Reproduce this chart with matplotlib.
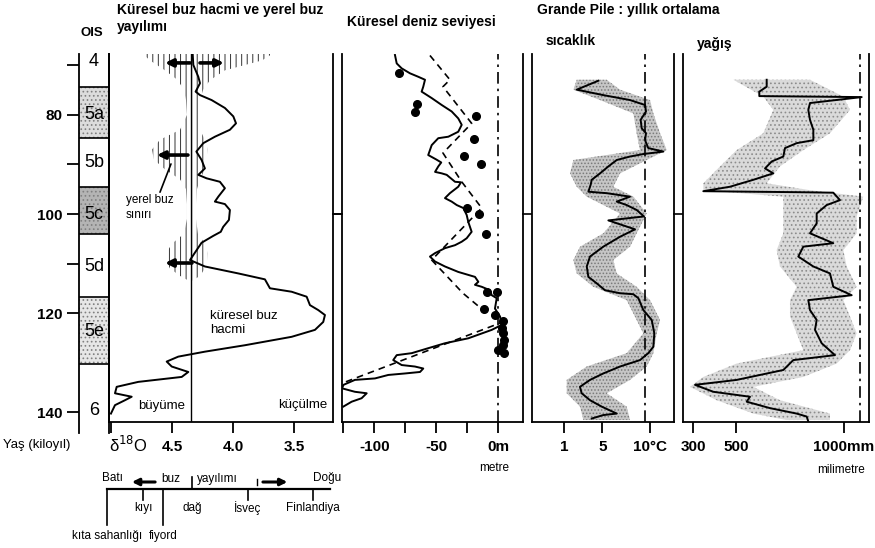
import matplotlib
matplotlib.use("Agg")
import matplotlib.pyplot as plt

plt.rcParams['font.family'] = ['Liberation Sans', 'DejaVu Sans']
plt.rcParams['hatch.linewidth'] = 0.7

W, H = 875, 548
AGE_TOP, AGE_BOT = 67.7, 142.0

# ---------------- OIS column ----------------
ois_labels = ['4', '5a', '5b', '5c', '5d', '5e', '6']
ois_label_age = [69.3, 80.0, 89.7, 100.0, 110.5, 123.8, 139.6]
ois_bounds = [74.3, 84.6, 94.5, 104.0, 116.8, 130.3]
ois_shade_top = [74.3, 94.5, 116.8]
ois_shade_bot = [84.6, 104.0, 130.3]
ois_shade_col = ['#dcdcdc', '#b4b4b4', '#e6e6e6']
age_ticks = [70, 80, 90, 100, 110, 120, 140]
age_ticklabels = ['', '80', '', '100', '', '120', '140']

# ---------------- Panel 1: global ice volume (d18O) ----------------
ice_age = [67.7, 69.9, 72.3, 73.6, 75.3, 76.0, 77.0, 78.6, 80.3, 81.7, 83.0, 84.4, 85.7,
           87.4, 89.1, 90.8, 92.1, 92.8, 93.5, 94.8, 96.5, 97.5, 98.0, 99.2, 101.2,
           102.6, 103.6, 104.4, 105.8, 108.3, 109.3, 110.6, 112.0, 113.2, 115.0, 115.7,
           116.7, 118.4, 119.4, 120.4, 121.8, 123.4, 124.8, 126.5, 127.8, 128.8, 129.8,
           130.8, 131.9, 132.9, 133.9, 134.9, 136.2, 136.9, 137.6, 138.6, 140.3]
ice_d18o = [4.33, 4.325, 4.284, 4.27, 4.306, 4.27, 4.175, 4.066, 3.997, 3.975, 4.025, 4.148,
            4.243, 4.30, 4.257, 4.23, 4.284, 4.216, 4.107, 4.066, 4.12, 4.148, 4.066, 4.025,
            4.033, 4.08, 4.10, 4.16, 4.257, 4.325, 4.352, 4.23, 3.957, 3.738, 3.697, 3.519,
            3.396, 3.369, 3.301, 3.246, 3.26, 3.328, 3.519, 3.902, 4.23, 4.448, 4.543,
            4.502, 4.366, 4.42, 4.776, 4.953, 4.967, 4.83, 4.885, 4.967, 5.0]
ice_ref_d18o = 4.34

# local ice extent (stippled zone)
loc_age = [67.7, 69, 71, 73, 75, 77, 80, 83, 85, 87, 89, 91, 93, 95, 98, 101, 104, 106,
           108, 109.5, 111, 112.5, 113.5]
loc_left = [4.738, 4.680, 4.557, 4.451, 4.402, 4.385, 4.377, 4.434, 4.598, 4.664, 4.648,
            4.557, 4.434, 4.385, 4.377, 4.377, 4.402, 4.5, 4.549, 4.549, 4.516, 4.434, 4.361]
loc_right = [3.680, 3.762, 4.066, 4.189, 4.246, 4.270, 4.287, 4.270, 4.230, 4.205, 4.221,
             4.230, 4.270, 4.295, 4.303, 4.303, 4.287, 4.230, 4.205, 4.213, 4.230, 4.270, 4.336]
# local ice-limit arrows: (age, from d18O, to d18O)
arrow_age = [69.5, 69.5, 88.1, 109.9]
arrow_from = [4.352, 4.270, 4.369, 4.336]
arrow_to = [4.557, 4.074, 4.623, 4.557]

# ---------------- Panel 2: global sea level ----------------
sl_age = [67.9, 69.6, 70.6, 71.6, 72.3, 72.9, 74.3, 75.3, 76.6, 78.0, 79.3, 80.7, 82.0,
          83.4, 84.4, 84.7, 86.1, 88.1, 89.0, 89.6, 90.4, 91.5, 91.8, 92.1, 93.5, 93.6,
          94.5, 95.8, 96.8, 97.5, 98.2, 98.8, 100.2, 101.6, 103.6, 104.9, 105.6, 106.3,
          106.9, 107.9, 108.6, 109.6, 110.6, 111.7, 112.3, 112.7, 113.7, 114.3, 114.7,
          115.4, 116.4, 117.0, 119.1, 120.7, 122.4, 123.4, 125.1, 126.1, 127.1, 128.1,
          128.5, 129.5, 130.5, 130.8, 131.2, 131.9, 132.2, 132.5, 133.2, 133.5, 134.5,
          135.2, 135.9, 136.2, 137.2, 137.9, 138.9]
sl_m = [-83.3, -81.9, -77.9, -71.2, -64.5, -59.1, -60.5, -61.8, -53.7, -45.6, -37.6, -32.3,
        -29.5, -32.3, -40.3, -48.4, -53.7, -56.5, -50.0, -46.0, -48.4, -51.0, -45.6, -41.6,
        -34.9, -30.1, -32.3, -39.0, -43.0, -37.6, -33.5, -28.2, -25.5, -24.2, -21.5, -25.5,
        -29.5, -34.9, -43.0, -51.0, -55.1, -51.0, -43.0, -32.3, -24.2, -18.8, -16.1, -18.8,
        -13.4, -6.7, -5.3, -1.3, -2.7, 1.4, 2.7, -5.3, -24.2, -43.0, -56.5, -69.8, -81.9,
        -84.7, -77.9, -67.2, -60.5, -63.1, -75.2, -88.7, -99.4, -115.6, -124.8, -126.0,
        -115.6, -106.1, -110.2, -118.2, -125.0]
sl2_age = [68.0, 72.9, 74.3, 81.7, 87.7, 93.5, 98.8, 109.3, 116.0, 119.4, 121.8, 134.1]
sl2_m = [-55.1, -39.0, -44.6, -21.5, -44.6, -29.5, -13.4, -53.7, -28.5, -12.3, 3.8, -125.2]
dot_age = [71.5, 77.8, 79.4, 80.2, 84.9, 88.3, 90.0, 98.8, 100.1, 104.0, 115.8, 115.8,
           119.1, 120.4, 121.6, 123.1, 124.1, 125.5, 126.5, 127.5, 128.0]
dot_m = [-79.8, -65.3, -67.2, -18.2, -19.6, -27.7, -14.2, -25.5, -15.6, -9.9, -8.9, -0.8,
         -11.5, -2.7, 4.0, 2.7, 4.0, 4.6, 4.0, 0.0, 4.6]

# ---------------- Panel 3: Grande Pile temperature ----------------
t_age = [73.1, 74.9, 76.0, 77.0, 78.0, 79.3, 81.0, 82.7, 83.7, 85.1, 86.7, 87.4, 87.9,
         88.4, 89.1, 90.4, 91.8, 93.1, 94.1, 95.5, 95.8, 96.5, 97.5, 98.2, 99.2, 100.5,
         101.3, 103.1, 104.6, 106.6, 108.6, 110.6, 112.7, 114.0, 115.4, 116.0, 116.2,
         117.0, 119.4, 121.4, 124.1, 126.8, 128.1, 129.5, 130.8, 132.2, 133.5, 134.9,
         136.2, 137.6, 138.9, 140.3, 140.6, 141.3]
t_val = [4.59, 2.33, 5.11, 7.91, 9.48, 9.58, 9.02, 9.13, 9.58, 9.48, 9.82, 11.4, 9.30,
         7.91, 6.52, 5.64, 4.77, 3.90, 3.79, 3.55, 5.47, 7.91, 6.52, 7.56, 8.61, 9.37,
         5.64, 8.43, 6.86, 5.11, 3.72, 3.38, 3.55, 4.42, 5.29, 6.86, 8.25, 8.78, 9.30,
         10.18, 10.45, 10.35, 9.82, 8.95, 6.86, 5.11, 3.72, 2.67, 2.85, 3.72, 4.95, 6.52,
         5.11, 3.90]
tb_age = [72.9, 74.9, 77.0, 79.7, 83.7, 87.1, 89.1, 91.8, 94.5, 96.5, 99.9, 103.9, 106.6,
          109.3, 112.0, 114.7, 117.4, 121.4, 124.1, 128.1, 130.8, 133.5, 136.2, 138.9, 141.6]
tb_lo = [2.33, 1.98, 4.77, 8.26, 8.60, 8.95, 1.98, 1.63, 2.33, 3.37, 6.86, 5.12, 2.68,
         1.98, 2.33, 4.07, 7.56, 8.60, 9.30, 7.56, 3.37, 1.28, 1.28, 2.68, 3.02]
tb_hi = [5.47, 6.86, 10.0, 10.35, 11.05, 11.75, 9.65, 6.86, 6.16, 8.26, 9.65, 8.60, 7.91,
         6.16, 6.51, 8.60, 10.0, 11.05, 10.7, 10.35, 9.65, 7.91, 5.47, 7.56, 7.91]
t_present = 9.5

# ---------------- Panel 4: Grande Pile precipitation ----------------
p_age = [72.9, 74.3, 75.3, 76.2, 76.4, 77.6, 79.0, 81.0, 83.0, 85.1, 85.7, 86.7, 88.4,
         89.4, 90.8, 91.8, 93.1, 94.5, 95.4, 95.6, 95.7, 97.2, 98.2, 99.9, 101.9, 103.9,
         105.9, 106.6, 108.6, 110.6, 112.0, 114.7, 116.4, 117.4, 119.4, 121.4, 123.4,
         126.1, 128.5, 129.5, 131.5, 133.5, 134.5, 135.9, 136.9, 137.9, 139.2, 140.3,
         140.9, 141.9]
p_val = [641.6, 641.6, 607.4, 607.4, 1082, 842.4, 834.6, 842.4, 857.9, 857.9, 780.7, 726.5,
         718.7, 664.9, 633.8, 672.3, 579.6, 471.5, 347.8, 780.7, 950.4, 981.5, 919.7,
         873.4, 873.4, 842.4, 950.4, 811.4, 788.2, 857.9, 935.1, 950.4, 1035.7, 834.6,
         842.4, 873.4, 865.6, 896.6, 958.3, 765.0, 718.7, 502.6, 309.3, 394.1, 564.2,
         548.9, 656.9, 780.7, 827.1, 834.6]
pb_age = [72.9, 76.3, 79.0, 83.7, 87.1, 90.4, 93.8, 95.2, 96.5, 100.5, 103.9, 107.3, 110.6,
          114.7, 117.4, 120.7, 124.1, 127.5, 130.2, 132.9, 134.9, 137.6, 140.3, 141.6]
pb_lo = [487, 626, 672.4, 626, 502.4, 425.2, 347.9, 347.9, 718.7, 718.7, 718.7, 687.8,
         703.3, 780.6, 749.7, 749.7, 780.6, 811.5, 502.4, 347.9, 286, 409.7, 579.7, 734.2]
pb_hi = [842.4, 996.9, 1027.8, 935.1, 811.5, 703.3, 641.6, 842.4, 1089.6, 1058.7, 1058.7,
         996.9, 1012.4, 1058.7, 996.9, 1027.8, 1058.7, 1027.8, 966, 811.5, 579.7, 703.3,
         935.1, 935.1]
p_present = 1074

# ---------------- Bottom schematic (west -> east ice expansion) ----------------
place_names = ['kıta sahanlığı', 'kıyı', 'fiyord', 'dağ', 'İsveç', 'Finlandiya']
place_pos = [0.029, 0.176, 0.257, 0.376, 0.604, 0.869]

# =========================================================
fig = plt.figure(figsize=(W / 100, H / 100), dpi=100)


def px_axes(x0, y0, x1, y1):
    return fig.add_axes([x0 / W, 1 - y1 / H, (x1 - x0) / W, (y1 - y0) / H])


def ftext(x, y, s, **kw):
    kw.setdefault('va', 'center')
    kw.setdefault('ha', 'left')
    fig.text(x / W, 1 - y / H, s, **kw)


LW = 1.4
DASHDOT = (0, (7, 3, 1.5, 3))
TICKFS = 11


def style_panel(ax, xlim, xticks, xticklabels):
    ax.set_ylim(AGE_BOT, AGE_TOP)
    ax.set_xlim(*xlim)
    ax.spines['top'].set_visible(False)
    for s in ['left', 'right', 'bottom']:
        ax.spines[s].set_linewidth(1.3)
    ax.set_xticks(xticks)
    ax.set_xticklabels(xticklabels, fontsize=TICKFS, fontweight='bold')
    ax.tick_params(axis='x', direction='out', length=8, width=1.3, pad=5)
    ax.set_yticks([100])
    ax.tick_params(axis='y', left=True, right=False, labelleft=False, direction='out',
                   length=7, width=1.2)
    ax.set_facecolor('none')


# OIS column
ax0 = px_axes(79, 54, 109, 433)
ax0.set_ylim(144.2, AGE_TOP)
ax0.set_xlim(0, 1)
ax0.spines['top'].set_visible(False)
ax0.spines['bottom'].set_visible(False)
ax0.spines['left'].set_linewidth(1.3)
ax0.spines['right'].set_linewidth(1.3)
ax0.set_xticks([])
ax0.set_yticks(age_ticks)
ax0.set_yticklabels(age_ticklabels, fontsize=TICKFS, fontweight='bold')
ax0.tick_params(axis='y', direction='out', length=9, width=1.3, pad=3)
for t, b, c in zip(ois_shade_top, ois_shade_bot, ois_shade_col):
    ax0.axhspan(t, b, facecolor=c, edgecolor='#808080', hatch='....', linewidth=0)
for b in ois_bounds:
    ax0.axhline(b, color='black', lw=1.2)
for lab, a in zip(ois_labels, ois_label_age):
    ax0.text(0.5, a, lab, ha='center', va='center', fontsize=13)

# Panel 1
ax1 = px_axes(109, 54, 333, 422)
style_panel(ax1, (5.016, 3.180), [5.0, 4.5, 4.0, 3.5], ['', '4.5', '4.0', '3.5'])
ax1.tick_params(axis='y', left=False, right=True, direction='out', length=7, width=1.2)
ax1.fill_betweenx(loc_age, loc_left, loc_right, facecolor='none', edgecolor='#333333',
                  hatch='|||', linewidth=0)
ax1.axvline(ice_ref_d18o, color='black', lw=1.0)
ax1.plot(ice_d18o, ice_age, color='black', lw=LW)
for a, d0, d1 in zip(arrow_age, arrow_from, arrow_to):
    ax1.annotate('', xy=(d1, a), xytext=(d0, a),
                 arrowprops=dict(arrowstyle='-|>', lw=2.6, color='black',
                                 mutation_scale=11, shrinkA=0, shrinkB=0))
ax1.annotate('', xy=(4.508, 89.9), xytext=(4.598, 95.6),
             arrowprops=dict(arrowstyle='-', lw=1.2, color='black', shrinkA=0, shrinkB=0))
ax1.text(4.88, 96.0, 'yerel buz\nsınırı', fontsize=8.5, va='top', ha='left', linespacing=1.3)
ax1.text(4.185, 119.3, 'küresel buz\nhacmi', fontsize=9.5, va='top', ha='left', linespacing=1.25)
ax1.text(4.78, 138.8, 'büyüme', fontsize=9.5, va='center', ha='left')
ax1.text(3.63, 138.6, 'küçülme', fontsize=9.5, va='center', ha='left')

# Panel 2
ax2 = px_axes(342, 54, 523, 422)
style_panel(ax2, (-126.0, 19.9), [-125, -100, -75, -50, -25, 0],
            ['', '-100', '', '-50', '', '0m'])
ax2.axvline(0, color='black', lw=1.2, linestyle=DASHDOT)
ax2.plot(sl2_m, sl2_age, color='black', lw=1.2, linestyle=(0, (4, 3)))
ax2.plot(sl_m, sl_age, color='black', lw=LW)
ax2.plot(dot_m, dot_age, 'o', color='black', ms=5.5)

# Panel 3
ax3 = px_axes(532, 54, 674, 422)
style_panel(ax3, (-2.35, 12.51), [1, 5, 10], ['1', '5', '10°C'])
ax3.fill_betweenx(tb_age, tb_lo, tb_hi, facecolor='#c6c6c6', edgecolor='#7a7a7a',
                  hatch='.....', linewidth=0)
ax3.axvline(t_present, color='black', lw=1.2, linestyle=DASHDOT)
ax3.plot(t_val, t_age, color='black', lw=LW)

# Panel 4
ax4 = px_axes(683, 54, 869, 422)
style_panel(ax4, (253.6, 1116), [300, 500, 1000], ['300', '500', '1000mm'])
ax4.fill_betweenx(pb_age, pb_lo, pb_hi, facecolor='#dadada', edgecolor='#8c8c8c',
                  hatch='....', linewidth=0)
ax4.axvline(p_present, color='black', lw=1.2, linestyle=DASHDOT)
ax4.plot(p_val, p_age, color='black', lw=LW)

# Titles and labels
ftext(117, 10, 'Küresel buz hacmi ve yerel buz', fontsize=10, fontweight='bold')
ftext(117, 27, 'yayılımı', fontsize=10, fontweight='bold')
ftext(92, 33, 'OIS', fontsize=9.5, fontweight='bold', ha='center')
ftext(347, 22, 'Küresel deniz seviyesi', fontsize=10, fontweight='bold')
ftext(537, 10, 'Grande Pile : yıllık ortalama', fontsize=10, fontweight='bold')
ftext(546, 41, 'sıcaklık', fontsize=10, fontweight='bold')
ftext(697, 44, 'yağış', fontsize=10, fontweight='bold')
ftext(3, 445, 'Yaş (kiloyıl)', fontsize=9.5)
ftext(128, 445, 'δ$^{18}$O', fontsize=12, ha='center')
ftext(494, 468, 'metre', fontsize=8.5, ha='center')
ftext(841, 470, 'milimetre', fontsize=8.5, ha='center')

# Bottom schematic
axl = px_axes(100, 470, 345, 545)
axl.set_xlim(0, 1)
axl.set_ylim(0, 1)
axl.axis('off')
LINE_Y = 0.747
axl.plot([place_pos[0], 0.939], [LINE_Y, LINE_Y], color='black', lw=1.6)
down_end = [0.267, 0.6, 0.267, None, 0.6, 0.6]
label_y = [0.12, 0.493, 0.12, 0.493, 0.493, 0.493]
for name, p, d, ly in zip(place_names, place_pos, down_end, label_y):
    if d is not None:
        axl.plot([p, p], [LINE_Y, d], color='black', lw=1.2)
    else:
        axl.plot([p, p], [LINE_Y, 0.907], color='black', lw=1.2)
    axl.text(p, ly, name, fontsize=8.5, ha='center', va='center')
axl.plot([0.641, 0.641], [0.8, 0.88], color='black', lw=1.0)
axl.text(0.05, 0.893, 'Batı', fontsize=8.5, ha='center', va='center')
axl.text(0.29, 0.88, 'buz', fontsize=8.5, ha='center', va='center')
axl.text(0.48, 0.88, 'yayılımı', fontsize=8.5, ha='center', va='center')
axl.text(0.927, 0.893, 'Doğu', fontsize=8.5, ha='center', va='center')
axl.annotate('', xy=(0.13, 0.84), xytext=(0.225, 0.84),
             arrowprops=dict(arrowstyle='-|>', lw=2.2, color='black', mutation_scale=10,
                             shrinkA=0, shrinkB=0))
axl.annotate('', xy=(0.765, 0.84), xytext=(0.665, 0.84),
             arrowprops=dict(arrowstyle='-|>', lw=2.2, color='black', mutation_scale=10,
                             shrinkA=0, shrinkB=0))

fig.savefig('out.png', dpi=100)
